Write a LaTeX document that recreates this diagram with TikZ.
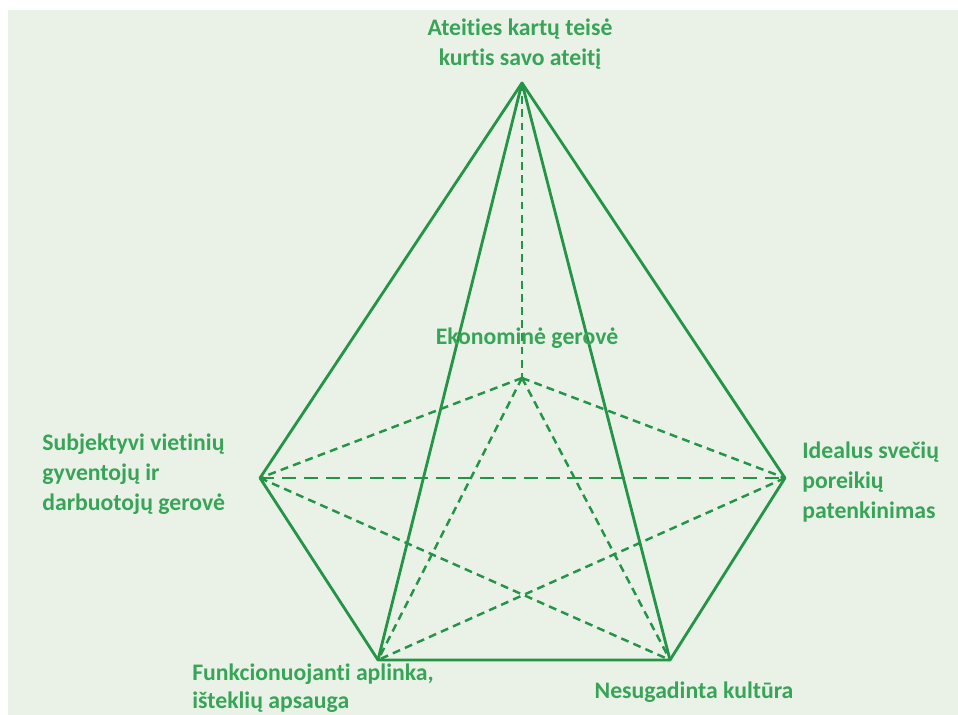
\documentclass[tikz,border=0pt]{standalone}
\usepackage{fontspec}
\setmainfont{Carlito}[Ligatures=NoCommon]
\usepackage{tikz}
\usetikzlibrary{positioning, calc}
\definecolor{panelgreen}{RGB}{234,242,232}
\definecolor{linegreen}{RGB}{36,148,70}
\definecolor{textgreen}{RGB}{56,164,88}

\begin{document}
\begin{tikzpicture}[
  x=0.02cm, y=-0.02cm,
  solidedge/.style={draw=linegreen, line width=1.6pt, line join=round},
  hiddenedge/.style={draw=linegreen, line width=1.4pt, dash pattern=on 4.5pt off 3pt},
  longdash/.style={draw=linegreen, line width=1.4pt, dash pattern=on 8pt off 4.5pt},
  lbl/.style={font=\fontsize{13.5}{17}\selectfont\bfseries, text=textgreen, inner sep=0pt},
]
  \useasboundingbox (0,0) rectangle (958,715);
  \fill[white] (-5,-5) rectangle (965,720);
  \fill[panelgreen] (8,10) rectangle (965,720);

  % vertices of the pyramid
  \coordinate (apex) at (522,83);
  \coordinate (eco)  at (522,378);
  \coordinate (lft)  at (260,478);
  \coordinate (rgt)  at (785,478);
  \coordinate (bl)   at (378,660);
  \coordinate (br)   at (670,660);

  % hidden edges
  \draw[hiddenedge] (apex) -- (eco);
  \draw[hiddenedge] (eco) -- (lft);
  \draw[hiddenedge] (eco) -- (rgt);
  \draw[hiddenedge] (eco) -- (bl);
  \draw[hiddenedge] (eco) -- (br);
  \draw[hiddenedge] (lft) -- (br);
  \draw[hiddenedge] (rgt) -- (bl);
  \draw[longdash]   (lft) -- (rgt);

  % visible edges
  \draw[solidedge] (apex) -- (lft) -- (bl) -- (br) -- (rgt) -- cycle;
  \draw[solidedge] (apex) -- (bl);
  \draw[solidedge] (apex) -- (br);

  \node[lbl, align=center] (tTop) at (520,44) {Ateities kartų teisė\\kurtis savo ateitį};
  \node[lbl] (tEco) at (527,338) {Ekonominė gerovė};
  \node[lbl, align=left, anchor=west] (tLeft) at (42,474) {Subjektyvi vietinių\\gyventojų ir\\darbuotojų gerovė};
  \node[lbl, align=left, anchor=west] (tRight) at (802,482) {Idealus svečių\\poreikių\\patenkinimas};
  \node[lbl, font=\fontsize{13.5}{16}\selectfont\bfseries, align=left, anchor=west] (tBL) at (192,688) {Funkcionuojanti aplinka,\\išteklių apsauga};
  \node[lbl] (tBR) at (694,692) {Nesugadinta kultūra};
\end{tikzpicture}
\end{document}
